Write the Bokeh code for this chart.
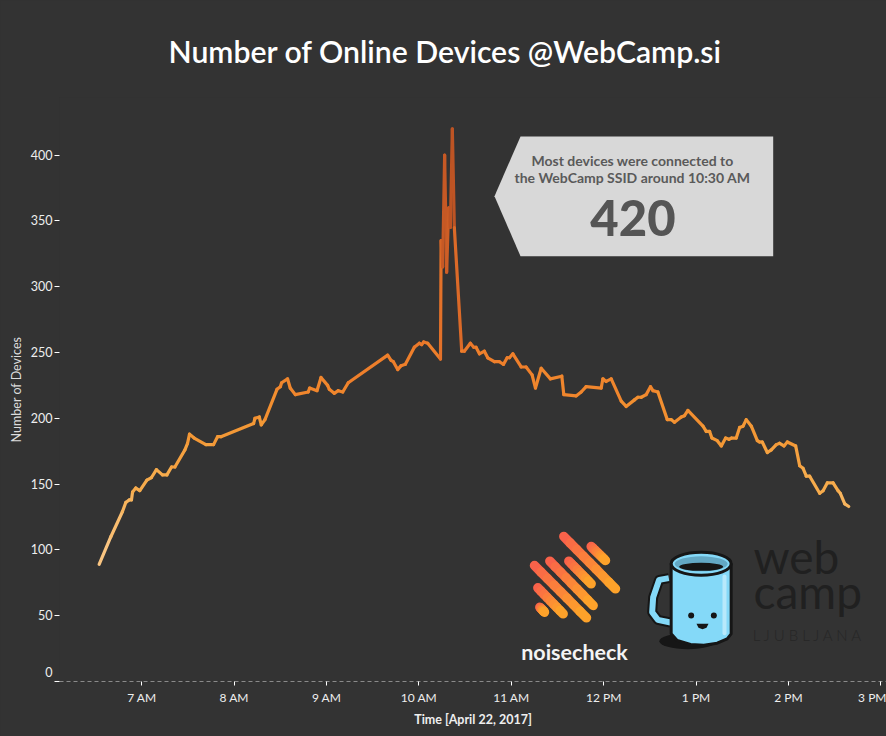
from bokeh.plotting import figure
from bokeh.embed import file_html
from bokeh.resources import INLINE
from bokeh.models import ColumnDataSource, Label, Range1d, FixedTicker, LinearColorMapper

# ---- data -------------------------------------------------------------
minutes = [392.3,399.9,407.4,409.6,411.8,413.3,414,416.1,418.7,423.3,426.3,429.5,433.4,436.3,439.3,441.5,448,449.7,451,454,461.6,466.6,469.2,471.4,492.6,493.5,496.3,497.6,500,507.8,510,510.8,514.7,516.4,519.7,528.1,529,533.8,536.4,540.7,541.8,545,547.6,550.5,554.1,579.7,581.9,583.4,586.2,588.4,591.2,597,600.3,601.8,603.1,605.7,614,614.4,615.4,616.7,618,619.3,620.4,621.7,623,627.8,629.5,633.4,635.6,637.1,639.3,642.5,644.7,649,652.3,654.9,657.3,658.8,661,666.4,669.6,673.5,675.7,679.4,685.4,692.8,694.1,702.1,705.4,708.6,718.4,719.5,721.6,724.9,731.4,734.6,740,742.2,744.4,747.6,750.4,752,755.2,761.3,763.9,766,770.4,772.5,774.7,784.5,786.6,788.8,790.3,793.8,796.4,799.2,801.4,802.9,806.1,808.3,810.5,812.6,815.9,819.8,821.3,823,826.3,828.9,832.1,834.3,837.1,839.3,844.7,847.3,849.5,851.6,853.8,860.3,862.5,865.3,869,872.2,873.7,876.6,879.2]
devices = [89,110,129,136,138,138,144,147,145,153,155,161,157,157,163,163,176,181,188,185,180,180,186,186,196,200,201,195,199,222,224,227,230,223,218,220,223,221,231,225,222,219,221,220,227,248,244,243,237,240,241,254,257,256,258,257,245,335,315,400,311,360,345,420,345,251,251,257,254,254,249,251,246,243,243,241,246,246,249,239,239,233,223,238,230,232,218,217,220,224,223,230,228,230,213,209,214,216,216,218,224,221,220,199,199,197,201,202,206,194,190,190,185,183,179,185,184,185,185,193,194,199,194,183,182,182,174,176,180,181,179,182,179,164,162,156,156,143,145,151,151,145,143,135,133]
x_ticks = [420,480,540,600,660,720,780,840,900]
x_tick_labels = ["7 AM","8 AM","9 AM","10 AM","11 AM","12 PM","1 PM","2 PM","3 PM"]
y_ticks = [0,50,100,150,200,250,300,350,400]
line_palette = ["#fac581","#f9bd6f","#f7b45d","#f6ab4c","#f5a140","#f39836","#f28f30","#f0862d","#ee7f2b",
                "#ea782a","#e37129","#dc6a28","#d56427","#ce5e26","#c65925","#bd5424","#b45023","#a84a22"]

BG = "#333333"
FONT = "Lato"

# ---- figure -----------------------------------------------------------
PX_MIN = 1.5396
PX_VAL = 1.316
x0 = 420 - (141.3 - 59) / PX_MIN
x1 = 420 + (886 - 141.3) / PX_MIN
y1 = (681 - 97) / PX_VAL

p = figure(width=886, height=736, frame_width=827, frame_height=584, output_backend="svg", toolbar_location=None,
           x_range=Range1d(x0, x1), y_range=Range1d(0, y1),
           min_border_left=59, min_border_right=0, min_border_top=97, min_border_bottom=55,
           background_fill_color=BG, border_fill_color=BG, outline_line_color=None,
           title="Number of Online Devices @WebCamp.si")
p.grid.visible = False

p.title.align = "left"
p.title.offset = 109
p.title.standoff = 58
p.title.text_color = "#ffffff"
p.title.text_font = "Lato Semibold"
p.title.text_font_size = "30.2px"
p.title.text_font_style = "normal"

xa = p.xaxis[0]
xa.ticker = FixedTicker(ticks=x_ticks)
xa.major_label_overrides = dict(zip(x_ticks, x_tick_labels))
xa.axis_label = "Time [April 22, 2017]"
xa.axis_label_text_color = "#eeeeee"
xa.axis_label_text_font = FONT
xa.axis_label_text_font_style = "bold"
xa.axis_label_text_font_size = "12.5px"
xa.axis_label_standoff = 4
xa.major_label_text_color = "#eeeeee"
xa.major_label_text_font = FONT
xa.major_label_text_font_size = "12px"
xa.major_label_standoff = 4
xa.axis_line_color = "#8a8a8a"
xa.axis_line_dash = [4, 3]
xa.axis_line_width = 1
xa.major_tick_line_color = "#ffffff"
xa.major_tick_out = 4
xa.major_tick_in = 0
xa.minor_tick_line_color = None

ya = p.yaxis[0]
ya.ticker = FixedTicker(ticks=y_ticks)
ya.major_label_overrides = {0: "0\n"}
ya.axis_label = "Number of Devices"
ya.axis_label_text_color = "#dddddd"
ya.axis_label_text_font = FONT
ya.axis_label_text_font_style = "normal"
ya.axis_label_text_font_size = "12.5px"
ya.axis_label_standoff = 4
ya.major_label_text_color = "#eeeeee"
ya.major_label_text_font = FONT
ya.major_label_text_font_size = "12.5px"
ya.major_label_standoff = 2
ya.major_label_orientation = "horizontal"
ya.axis_line_color = None
ya.major_tick_line_color = "#ffffff"
ya.major_tick_out = 5
ya.major_tick_in = 0
ya.minor_tick_line_color = None

# page-pixel helpers for annotation artwork (not for the data)
def X(px):
    return x0 + (px - 59) / PX_MIN
def Y(py):
    return (681 - py) / PX_VAL
def ZX(z):
    return X(500 + z / 3)
def ZY(z):
    return Y(510 + z / 3)

# ---- device line ------------------------------------------------------
seg = ColumnDataSource(dict(
    xs=[minutes[i:i+2] for i in range(len(minutes)-1)],
    ys=[devices[i:i+2] for i in range(len(devices)-1)],
    level=[(devices[i]+devices[i+1])/2 for i in range(len(devices)-1)],
))
mapper = LinearColorMapper(palette=line_palette, low=88, high=420)
p.multi_line("xs", "ys", source=seg, line_width=3.2, line_cap="round", line_join="round",
             line_color={"field": "level", "transform": mapper})

# ---- call-out ---------------------------------------------------------
callout_px = [(520,136),(772.7,136),(772.7,255.7),(520,255.7),(494,195.7)]
p.patch([X(a) for a, _ in callout_px], [Y(b) for _, b in callout_px], fill_color="#d8d8d8", line_color=None)

def text(t, px, py, size, color, style="normal", font=FONT, align="center"):
    p.add_layout(Label(x=X(px), y=Y(py), text=t, text_font=font, text_font_size=f"{size}px",
                       text_font_style=style, text_color=color, text_align=align,
                       text_baseline="middle"))

text("Most devices were connected to", 632, 160, 14, "#5a5a5a", "bold")
text("the WebCamp SSID around 10:30 AM", 632, 177, 14, "#5a5a5a", "bold")
text("420", 632.5, 217, 49, "#555555", "normal", "Lato Black")

# ---- noisecheck logo --------------------------------------------------
bars = [((190,78),(345,235)),((272,108),(315,150)),((205,152),(272,220)),((148,152),(278,285)),
        ((102,165),(258,322)),((112,232),(188,310)),((118,290),(132,305))]
def mix(t):
    a, b = (249,94,76), (253,166,40)
    return "#%02x%02x%02x" % tuple(round(a[i] + (b[i]-a[i])*t) for i in range(3))
N = 8
lx, ly, lc = [], [], []
for (ax, ay), (bx, by) in bars:
    for k in range(N):
        t0, t1 = k/N, (k+1)/N
        lx.append([ZX(ax+(bx-ax)*t0), ZX(ax+(bx-ax)*t1)])
        ly.append([ZY(ay+(by-ay)*t0), ZY(ay+(by-ay)*t1)])
        lc.append(mix((t0+t1)/2))
p.multi_line(lx, ly, line_color=lc, line_width=9.5, line_cap="round")
text("noisecheck", 574, 651, 21.5, "#f4f4f4", "bold")

# ---- mug logo ---------------------------------------------------------
INK = "#161616"
BLUE = "#84d9f8"
p.ellipse(x=[ZX(562)], y=[ZY(392)], width=57, height=16, width_units="screen", height_units="screen",
          fill_color=INK, line_color=None)
hx = [505,476,458,455,472,510]
hy = [203,208,260,305,328,336]
p.line([ZX(a) for a in hx], [ZY(a) for a in hy], line_color=INK, line_width=10, line_join="round")
p.line([ZX(a) for a in hx], [ZY(a) for a in hy], line_color=BLUE, line_width=6, line_join="round")
bodyx = [512,692,692,680,650,610,570,530,512]
bodyy = [160,160,370,385,398,404,402,390,370]
p.patch([ZX(a) for a in bodyx], [ZY(a) for a in bodyy], fill_color=BLUE, line_color=INK, line_width=3)
p.ellipse(x=[ZX(602)], y=[ZY(160)], width=60, height=23, width_units="screen", height_units="screen",
          fill_color=BLUE, line_color=INK, line_width=3)
p.ellipse(x=[ZX(602)], y=[ZY(160)], width=53, height=15, width_units="screen", height_units="screen",
          fill_color="#63a8c4", line_color=None)
p.ellipse(x=[ZX(602)], y=[ZY(169)], width=44, height=8, width_units="screen", height_units="screen",
          fill_color=INK, line_color=None)
p.line([ZX(672), ZX(672)], [ZY(198), ZY(368)], line_color="#b8e9fb", line_width=4, line_cap="round")
p.ellipse(x=[ZX(572), ZX(640)], y=[ZY(315), ZY(315)], width=6, height=6, width_units="screen",
          height_units="screen", fill_color=INK, line_color=None)
mx = [588,624,618,606,594]
my = [340,340,352,356,352]
p.patch([ZX(a) for a in mx], [ZY(a) for a in my], fill_color=INK, line_color=None)

text("web", 753, 556, 46, "#202020", "normal", "Lato", "left")
text("camp", 753, 591, 46, "#202020", "normal", "Lato", "left")
text("L J U B L J A N A", 808, 634, 15, "#262626", "normal", "Lato Light")

html = file_html(p, INLINE)
html = html.replace("<body>", '<body style="background:#333333">')
open("out.html", "w").write(html)
